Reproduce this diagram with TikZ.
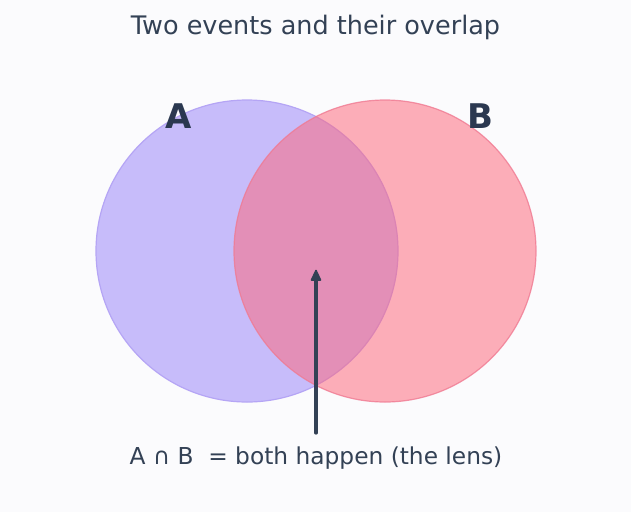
\documentclass[tikz,border=0pt]{standalone}
\usepackage{fontspec}
\setmainfont{DejaVu Sans}
\usetikzlibrary{arrows.meta}
\definecolor{bg}{HTML}{FBFBFD}
\definecolor{ink}{HTML}{334155}
\definecolor{inkdark}{HTML}{2B3850}
\definecolor{lavfill}{HTML}{C7BCFA}
\definecolor{lavline}{HTML}{B5A5F5}
\definecolor{rose}{HTML}{FE667A}
\definecolor{roseline}{HTML}{F07A92}
\begin{document}
\begin{tikzpicture}[x=1pt,y=-1pt,
  setlabel/.style={font=\bfseries\fontsize{34}{36}\selectfont, text=inkdark, inner sep=0pt},
  txt/.style={text=ink, inner sep=0pt, anchor=base}]
\fill[bg] (0,0) rectangle (631,512);
\useasboundingbox (0,0) rectangle (631,512);
\node[txt, font=\fontsize{25.5}{28}\selectfont] (title) at (315.5,34) {Two events and their overlap};
\fill[lavfill] (247,251) circle[radius=151];
\draw[lavline, line width=1.2pt] (247,251) circle[radius=151];
\fill[rose, fill opacity=0.52] (385,251) circle[radius=151];
\draw[roseline, line width=1.2pt, opacity=0.8] (385,251) circle[radius=151];
\node[setlabel] (la) at (178.5,116.5) {A};
\node[setlabel] (lb) at (480,116.5) {B};
\node[txt, font=\fontsize{23.3}{26}\selectfont] (cap) at (316,464) {A ∩ B \ = both happen (the lens)};
\coordinate (tip) at (316,270.5);
\coordinate (tail) at (316,433);
\draw[ink, line width=3.2pt, line cap=round, shorten >=6pt] (tail) -- (tip);
\draw[ink, fill=ink, line width=1.6pt, line join=round] (tip) -- ++(4.5,9.5) -- ++(-9,0) -- cycle;
\end{tikzpicture}
\end{document}
